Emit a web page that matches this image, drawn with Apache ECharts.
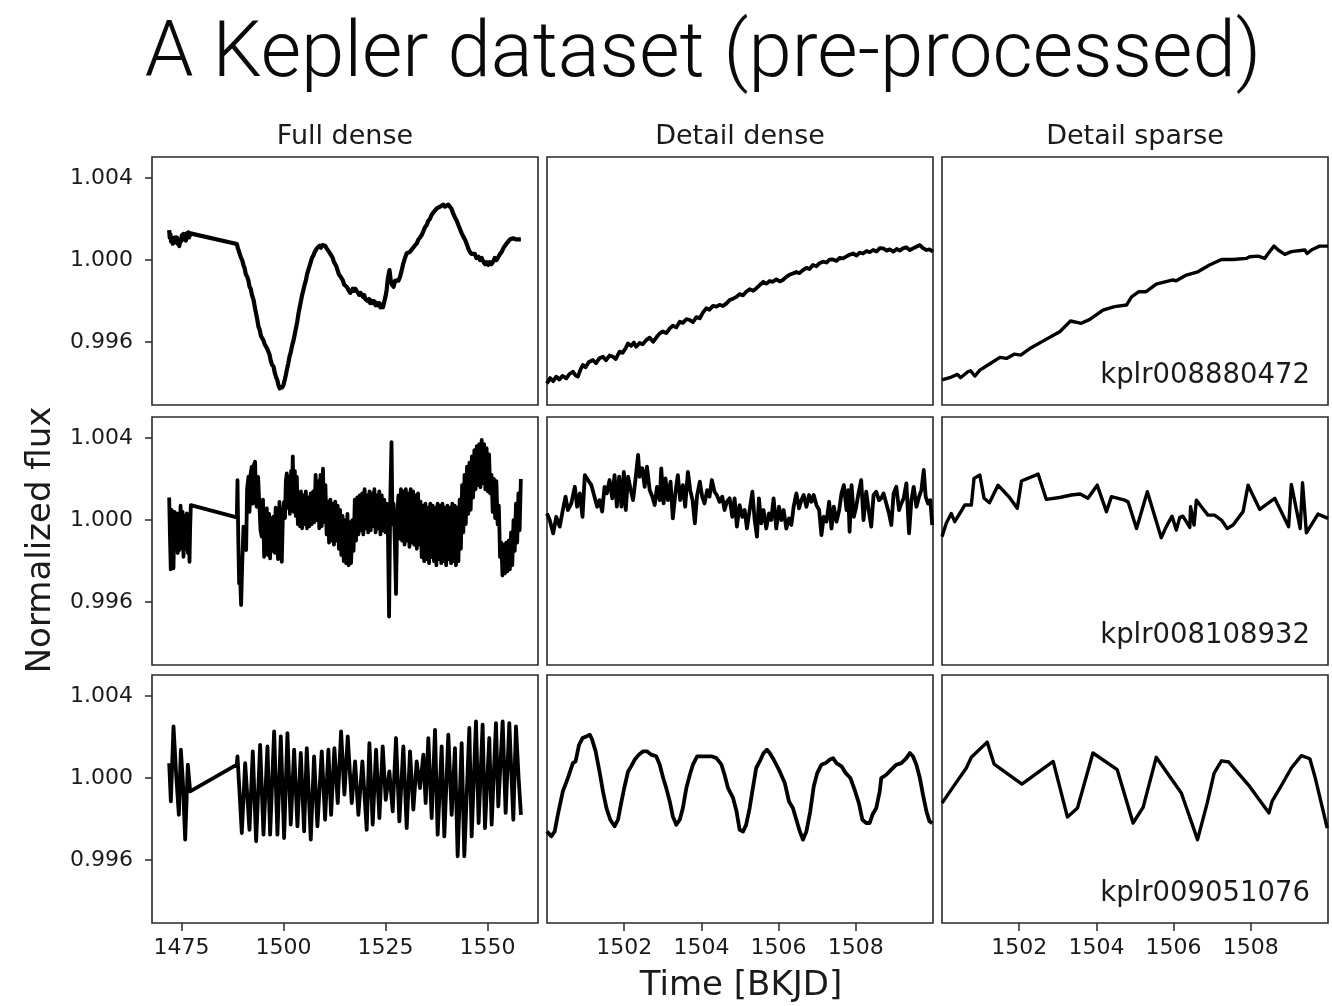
<!DOCTYPE html>
<html>
<head>
<meta charset="utf-8">
<script src="https://cdn.jsdelivr.net/npm/echarts@6/dist/echarts.min.js"></script>
<style>
html,body{margin:0;padding:0;background:#fff;}
#chart{width:1332px;height:1006px;}
</style>
</head>
<body>
<div id="chart"></div>
<script>
// ---------------- DATA ----------------
const mainTitle = 'A Kepler dataset (pre-processed)';
const columnTitles = ['Full dense', 'Detail dense', 'Detail sparse'];
const starIds = ['kplr008880472', 'kplr008108932', 'kplr009051076'];
const yAxisName = 'Normalized flux';
const xAxisName = 'Time [BKJD]';
const yTicks = [0.996, 1.000, 1.004];
const fullTicks = [1475, 1500, 1525, 1550];
const detailTicks = [1502, 1504, 1506, 1508];

// kplr008880472 — full dense
const fullDense1 = [[1472.0,1.00146],[1472.15,1.0011],[1472.3,1.00125],[1472.5,1.0009],[1472.7,1.0011],[1472.9,1.0008],[1473.1,1.0010],[1473.3,1.00085],[1473.5,1.0011],[1473.7,1.0009],[1473.9,1.0011],[1474.1,1.0008],[1474.3,1.0010],[1474.5,1.00068],[1474.7,1.0010],[1474.9,1.0009],[1475.1,1.0012],[1475.3,1.0010],[1475.5,1.00128],[1475.7,1.0010],[1475.9,1.0012],[1476.1,1.00095],[1476.3,1.0013],[1476.5,1.0011],[1476.7,1.00135],[1476.9,1.0011],[1477.2,1.0013],
[1488.6,1.00078],[1488.8,1.0006],[1489.0,1.00049],[1489.3,1.0003],[1489.6,1.00012],[1489.9,1.0000],[1490.2,0.99976],[1490.5,0.9996],[1490.8,0.9993],[1491.1,0.9992],[1491.4,0.99903],[1491.7,0.9987],[1492.0,0.9986],[1492.3,0.9983],[1492.7,0.99805],[1493.0,0.9977],[1493.3,0.9974],[1493.6,0.9971],[1493.9,0.99675],[1494.2,0.9966],[1494.5,0.9963],[1494.8,0.9962],[1495.1,0.9961],[1495.4,0.9959],[1495.7,0.9958],[1496.0,0.9957],[1496.3,0.99562],[1496.6,0.9954],[1496.9,0.9951],[1497.2,0.9949],[1497.6,0.9948],[1497.9,0.9945],[1498.2,0.9943],[1498.5,0.99416],[1498.8,0.9939],[1499.1,0.99375],[1499.4,0.9937],[1499.7,0.9938],[1500.0,0.9939],[1500.2,0.99399],[1500.5,0.9943],[1500.8,0.9946],[1501.2,0.99497],[1501.5,0.9953],[1501.8,0.9955],[1502.1,0.9958],[1502.5,0.9961],[1502.8,0.9964],[1503.1,0.9967],[1503.4,0.9970],[1503.7,0.9974],[1504.0,0.9977],[1504.3,0.9980],[1504.6,0.9983],[1504.9,0.99854],[1505.2,0.9988],[1505.5,0.9990],[1505.8,0.9993],[1506.1,0.99951],[1506.4,0.9997],[1506.7,0.9999],[1507.0,1.0001],[1507.4,1.00024],[1507.7,1.0004],[1508.0,1.0004],[1508.3,1.0006],[1508.6,1.00057],[1508.9,1.0007],[1509.2,1.0006],[1509.6,1.00073],[1509.9,1.0007],[1510.2,1.0007],[1510.6,1.00057],[1510.9,1.0005],[1511.2,1.0004],[1511.5,1.0003],[1511.8,1.00024],[1512.1,1.0001],[1512.4,0.9999],[1512.7,0.9998],[1513.0,0.99968],[1513.3,0.9995],[1513.6,0.9993],[1514.0,0.9992],[1514.3,0.99911],[1514.6,0.9990],[1514.9,0.9988],[1515.2,0.9988],[1515.5,0.9987],[1515.8,0.9986],[1516.1,0.99855],[1516.4,0.9984],[1516.7,0.99846],[1517.0,0.9986],[1517.3,0.9985],[1517.6,0.9986],[1518.0,0.99854],[1518.3,0.9984],[1518.6,0.9983],[1518.9,0.9984],[1519.2,0.9983],[1519.5,0.9982],[1519.8,0.9983],[1520.1,0.9981],[1520.4,0.99813],[1520.7,0.9980],[1521.0,0.9981],[1521.3,0.9979],[1521.6,0.99802],[1521.9,0.9979],[1522.2,0.9980],[1522.6,0.9978],[1522.9,0.99792],[1523.2,0.9978],[1523.5,0.9979],[1523.8,0.9977],[1524.1,0.99781],[1524.4,0.9977],[1524.7,0.99773],[1525.0,0.9982],[1525.3,0.99854],[1525.6,0.9991],[1526.0,0.99951],[1526.3,0.99903],[1526.6,0.9988],[1527.0,0.9987],[1527.4,0.9990],[1527.8,0.99894],[1528.2,0.9990],[1528.6,0.99919],[1529.0,0.9995],[1529.4,0.99984],[1529.8,1.0001],[1530.2,1.00032],[1530.6,1.0004],[1531.0,1.0004],[1531.4,1.00049],[1531.8,1.0006],[1532.2,1.0007],[1532.7,1.00081],[1533.1,1.0010],[1533.5,1.0011],[1533.9,1.00122],[1534.3,1.0014],[1534.7,1.0016],[1535.1,1.0017],[1535.5,1.0019],[1535.9,1.0020],[1536.3,1.00219],[1536.7,1.0023],[1537.1,1.0024],[1537.6,1.00252],[1538.0,1.0026],[1538.4,1.0026],[1538.8,1.00268],[1539.2,1.0027],[1539.6,1.0026],[1540.0,1.00268],[1540.4,1.0027],[1540.8,1.00268],[1541.2,1.0025],[1541.6,1.00227],[1542.0,1.0021],[1542.5,1.0019],[1542.9,1.0017],[1543.3,1.0015],[1543.7,1.0013],[1544.1,1.00114],[1544.5,1.0010],[1544.9,1.0008],[1545.3,1.00057],[1545.7,1.0004],[1546.1,1.0003],[1546.5,1.00024],[1546.9,1.0003],[1547.3,1.0001],[1547.8,1.00016],[1548.2,1.0000],[1548.6,1.0001],[1549.0,0.99992],[1549.4,0.9998],[1549.8,0.9999],[1550.2,0.99976],[1550.6,0.9999],[1551.0,0.9998],[1551.4,0.99992],[1551.8,1.0001],[1552.2,1.0000],[1552.7,1.00016],[1553.1,1.0003],[1553.5,1.0004],[1553.9,1.00057],[1554.3,1.0007],[1554.7,1.0008],[1555.1,1.00089],[1555.5,1.0010],[1555.9,1.0010],[1556.3,1.00106],[1556.7,1.0011],[1557.1,1.0010],[1557.6,1.00101],[1558.2,1.00101]];

const detailDense1 = [[1500.00,0.99399],[1500.08,0.99425],[1500.16,0.9941],[1500.24,0.99432],[1500.32,0.99418],[1500.40,0.99436],[1500.50,0.99424],[1500.58,0.99445],[1500.67,0.99456],[1500.74,0.99438],[1500.80,0.99432],[1500.87,0.99468],[1500.93,0.99489],[1501.00,0.99478],[1501.08,0.99502],[1501.19,0.99513],[1501.27,0.99498],[1501.36,0.99522],[1501.45,0.99529],[1501.53,0.99512],[1501.62,0.99535],[1501.71,0.99529],[1501.78,0.99518],[1501.88,0.99554],[1501.96,0.99548],[1502.04,0.99572],[1502.10,0.99594],[1502.18,0.99582],[1502.25,0.99598],[1502.31,0.99578],[1502.40,0.99596],[1502.48,0.9959],[1502.57,0.9961],[1502.66,0.99622],[1502.75,0.99602],[1502.84,0.99625],[1502.92,0.99643],[1503.00,0.99652],[1503.09,0.99644],[1503.18,0.99667],[1503.26,0.9968],[1503.35,0.99672],[1503.44,0.997],[1503.52,0.99694],[1503.61,0.99712],[1503.70,0.99708],[1503.78,0.99698],[1503.87,0.99722],[1503.96,0.99716],[1504.04,0.99745],[1504.13,0.99765],[1504.21,0.99758],[1504.30,0.99777],[1504.39,0.99773],[1504.47,0.99782],[1504.56,0.99776],[1504.65,0.99789],[1504.73,0.99805],[1504.82,0.99812],[1504.91,0.99821],[1504.99,0.99834],[1505.08,0.99828],[1505.16,0.99846],[1505.25,0.99858],[1505.34,0.9985],[1505.42,0.99862],[1505.51,0.99878],[1505.60,0.99894],[1505.68,0.99885],[1505.77,0.99898],[1505.85,0.99894],[1505.94,0.99906],[1506.03,0.99896],[1506.11,0.99903],[1506.20,0.99918],[1506.28,0.99928],[1506.37,0.99935],[1506.46,0.99942],[1506.54,0.99936],[1506.63,0.99951],[1506.72,0.99962],[1506.80,0.99956],[1506.89,0.99976],[1506.98,0.9997],[1507.06,0.99985],[1507.15,0.99992],[1507.24,0.99988],[1507.32,1.00002],[1507.41,1.00003],[1507.50,0.99996],[1507.58,1.0001],[1507.67,1.00008],[1507.76,1.00018],[1507.84,1.00026],[1507.93,1.00032],[1508.02,1.00022],[1508.10,1.00036],[1508.19,1.00032],[1508.28,1.00044],[1508.36,1.00038],[1508.45,1.00049],[1508.54,1.00042],[1508.62,1.00058],[1508.71,1.00057],[1508.80,1.00046],[1508.88,1.00052],[1508.97,1.00041],[1509.06,1.00054],[1509.14,1.00046],[1509.22,1.00057],[1509.31,1.00062],[1509.40,1.00048],[1509.48,1.00057],[1509.57,1.00065],[1509.66,1.00073],[1509.74,1.00058],[1509.83,1.00049],[1509.91,1.00052],[1510.00,1.00041]];

const detailSparse1 = [[1500.00,0.99416],[1500.20,0.99427],[1500.40,0.99443],[1500.48,0.99427],[1500.67,0.99456],[1500.74,0.99461],[1500.85,0.99435],[1500.98,0.99464],[1501.19,0.99489],[1501.50,0.99526],[1501.67,0.99521],[1501.88,0.99542],[1502.04,0.99537],[1502.31,0.99573],[1502.66,0.9961],[1503.05,0.99651],[1503.33,0.99703],[1503.61,0.99692],[1503.83,0.99711],[1504.17,0.99756],[1504.47,0.99773],[1504.78,0.99781],[1504.91,0.99821],[1505.10,0.99846],[1505.29,0.99846],[1505.55,0.99883],[1505.98,0.99903],[1506.07,0.99899],[1506.33,0.99927],[1506.63,0.99943],[1506.93,0.99976],[1507.24,1.00003],[1507.54,1.00003],[1507.88,1.00008],[1507.97,1.00016],[1508.19,1.00019],[1508.36,1.00008],[1508.45,1.00032],[1508.60,1.00068],[1508.71,1.00049],[1508.88,1.00028],[1509.05,1.00041],[1509.40,1.00049],[1509.46,1.00032],[1509.57,1.00049],[1509.78,1.00068],[1510.00,1.00068]];

// kplr008108932
const fullDense2 = [[1472.01,1.0011],[1472.2,0.9992],[1472.4,0.9976],[1472.6,1.0005],[1472.8,0.9988],[1473.07,0.99765],[1473.3,1.0004],[1473.5,0.9990],[1473.89,1.00032],[1474.1,0.9984],[1474.3,1.0003],[1474.54,0.99854],[1474.8,1.0007],[1475.03,0.9990],[1475.3,1.0004],[1475.52,0.99821],[1475.8,1.0002],[1476.0,0.9986],[1476.34,1.00032],[1476.6,0.9984],[1476.8,1.0001],[1476.99,0.99797],[1477.15,0.9996],[1477.32,1.00073],
[1488.58,1.00013],[1488.75,1.00195],[1488.95,0.9990],[1489.15,0.99692],[1489.4,0.9972],[1489.64,0.99586],[1489.9,0.9978],[1490.22,0.99968],[1490.5,0.9990],[1490.87,0.99854],[1491.1,1.0015],[1491.44,1.00211],[1491.7,1.0004],[1492.0,1.0023],[1492.26,1.0026],[1492.5,1.0008],[1492.8,1.0027],[1493.07,1.00284],[1493.3,1.0009],[1493.48,1.00065],[1493.8,1.0021],[1494.13,1.00211],[1494.4,0.9995],[1494.7,0.99919],[1495.0,1.0010],[1495.28,0.99821],[1495.6,1.0004],[1495.93,1.00057],[1496.2,0.9983],[1496.5,1.0003],[1496.75,0.99813],[1497.0,1.0001],[1497.3,0.9985],[1497.57,1.00016],[1497.9,0.9984],[1498.1,1.0006],[1498.38,0.99886],[1498.7,0.9981],[1499.04,1.00089],[1499.3,0.9986],[1499.61,0.99797],[1499.9,1.0004],[1500.18,1.00089],[1500.4,1.0001],[1500.6,1.0019],[1500.83,1.00227],[1501.1,1.0006],[1501.3,1.0021],[1501.6,1.0003],[1501.9,1.0024],[1502.1,1.0008],[1502.3,1.0031],[1502.55,1.0004],[1502.8,1.0024],[1503.05,1.0002],[1503.3,1.0021],[1503.55,0.9998],[1503.8,1.0013],[1504.05,0.9997],[1504.3,1.0014],[1504.6,0.9996],[1504.9,1.0012],[1505.2,0.9998],[1505.5,1.0014],[1505.8,0.9996],[1506.1,1.0011],[1506.4,0.9997],[1506.7,1.0013],[1507.0,0.9998],[1507.3,1.0014],[1507.6,0.9999],[1507.9,1.0022],[1508.2,1.0000],[1508.5,1.0019],[1508.8,0.9996],[1509.1,1.0022],[1509.4,0.9997],[1509.7,1.0025],[1510.0,0.9999],[1510.3,1.0017],[1510.6,0.9993],[1510.9,1.0009],[1511.2,0.9989],[1511.5,1.0010],[1511.8,0.9990],[1512.1,1.0008],[1512.4,0.9988],[1512.7,1.0009],[1513.0,0.9990],[1513.3,1.0007],[1513.6,0.9986],[1513.9,1.0005],[1514.2,0.9983],[1514.5,1.0002],[1514.8,0.9980],[1515.1,1.0000],[1515.4,0.9979],[1515.7,1.0003],[1516.0,0.9978],[1516.3,0.9999],[1516.6,0.9979],[1516.9,1.0000],[1517.2,0.9985],[1517.5,1.0010],[1517.8,0.9990],[1518.1,1.0011],[1518.4,0.9993],[1518.7,1.0012],[1519.0,0.9995],[1519.3,1.0013],[1519.6,0.9993],[1519.9,1.0015],[1520.2,0.9996],[1520.5,1.0012],[1520.8,0.9994],[1521.1,1.0014],[1521.4,0.9995],[1521.7,1.0013],[1522.0,0.9997],[1522.3,1.0015],[1522.6,0.9994],[1522.9,1.0012],[1523.2,0.9996],[1523.5,1.0014],[1523.8,0.9993],[1524.1,1.0012],[1524.4,0.9995],[1524.7,1.0010],[1525.0,0.9994],[1525.3,1.0008],[1525.6,0.9997],[1525.9,0.9953],[1526.2,1.0010],[1526.5,1.0038],[1526.75,0.9998],[1527.0,1.0008],[1527.3,0.9990],[1527.6,0.9964],[1527.9,1.0002],[1528.2,1.0012],[1528.5,0.9991],[1528.8,1.0015],[1529.1,0.9990],[1529.4,1.0014],[1529.7,0.9988],[1530.0,1.0015],[1530.3,0.9990],[1530.6,1.0013],[1530.9,0.9987],[1531.2,1.0015],[1531.5,0.9989],[1531.8,1.0014],[1532.1,0.9988],[1532.4,1.0012],[1532.7,0.9986],[1533.0,1.0013],[1533.3,0.9988],[1533.6,1.0009],[1533.9,0.9982],[1534.2,1.0007],[1534.5,0.9980],[1534.8,1.0008],[1535.1,0.9981],[1535.4,1.0006],[1535.7,0.9979],[1536.0,1.0008],[1536.3,0.9982],[1536.6,1.0007],[1536.9,0.9980],[1537.2,1.0006],[1537.5,0.9978],[1537.8,1.0008],[1538.1,0.9981],[1538.4,1.0007],[1538.7,0.9979],[1539.0,1.0008],[1539.3,0.9980],[1539.6,1.0006],[1539.9,0.9978],[1540.2,1.0007],[1540.5,0.9981],[1540.8,1.0006],[1541.1,0.9979],[1541.4,1.0008],[1541.7,0.9980],[1542.0,1.0007],[1542.3,0.9978],[1542.6,1.0006],[1542.9,0.9980],[1543.2,1.0010],[1543.5,0.9986],[1543.8,1.0017],[1544.1,0.9994],[1544.4,1.0022],[1544.7,0.9998],[1545.0,1.0026],[1545.3,1.0003],[1545.6,1.0028],[1545.9,1.0005],[1546.2,1.0031],[1546.5,1.0011],[1546.8,1.0034],[1547.1,1.0015],[1547.4,1.0036],[1547.7,1.0017],[1548.0,1.0037],[1548.3,1.0016],[1548.6,1.0039],[1548.9,1.0018],[1549.2,1.0037],[1549.5,1.0015],[1549.8,1.0035],[1550.1,1.0014],[1550.4,1.0032],[1550.7,1.0013],[1551.0,1.0022],[1551.3,1.0004],[1551.6,1.0020],[1551.9,1.0001],[1552.2,1.0019],[1552.5,0.9998],[1552.8,1.0007],[1553.1,0.9982],[1553.4,0.9989],[1553.7,0.9973],[1554.0,0.9988],[1554.3,0.9974],[1554.6,0.9989],[1554.9,0.9975],[1555.2,0.9990],[1555.5,0.9976],[1555.8,0.9994],[1556.1,0.9978],[1556.4,1.0000],[1556.7,0.9985],[1557.0,1.0008],[1557.3,0.9989],[1557.6,1.0013],[1557.9,0.9995],[1558.2,1.0020]];

const detailDense2 = [[1500.00,1.00032],[1500.07,1.0],[1500.16,0.99935],[1500.24,1.00016],[1500.33,0.99968],[1500.41,1.00049],[1500.48,1.00114],[1500.54,1.00049],[1500.63,1.00081],[1500.72,1.00162],[1500.78,1.00065],[1500.85,1.0013],[1500.92,1.00016],[1500.98,1.00219],[1501.06,1.00195],[1501.15,1.0017],[1501.23,1.00114],[1501.30,1.00065],[1501.36,1.00097],[1501.43,1.00041],[1501.49,1.00162],[1501.55,1.0013],[1501.62,1.00195],[1501.69,1.00106],[1501.75,1.00219],[1501.81,1.00065],[1501.87,1.00211],[1501.93,1.00065],[1501.99,1.00235],[1502.04,1.00049],[1502.10,1.00211],[1502.16,1.00154],[1502.23,1.00097],[1502.30,1.00211],[1502.36,1.00317],[1502.40,1.00211],[1502.47,1.00252],[1502.53,1.00162],[1502.59,1.0026],[1502.66,1.00146],[1502.73,1.00114],[1502.79,1.00073],[1502.85,1.00162],[1502.92,1.00097],[1502.96,1.00252],[1503.02,1.00081],[1503.07,1.00203],[1503.13,1.00097],[1503.20,1.00187],[1503.26,1.00008],[1503.33,1.00138],[1503.39,1.00219],[1503.45,1.00097],[1503.52,1.0017],[1503.58,1.00065],[1503.65,1.00235],[1503.71,1.00146],[1503.77,1.00097],[1503.83,0.99984],[1503.89,1.00122],[1503.96,1.00187],[1504.02,1.00114],[1504.08,1.00081],[1504.15,1.00146],[1504.21,1.00114],[1504.27,1.00195],[1504.34,1.00138],[1504.40,1.00122],[1504.47,1.00089],[1504.54,1.00114],[1504.60,1.00049],[1504.66,1.00089],[1504.73,1.00106],[1504.80,1.00016],[1504.86,1.00106],[1504.92,0.99968],[1504.99,1.00073],[1505.06,1.00016],[1505.12,1.00049],[1505.18,0.99959],[1505.25,1.00049],[1505.32,1.00138],[1505.38,1.0],[1505.44,0.99919],[1505.49,1.00106],[1505.55,0.99984],[1505.61,1.00049],[1505.68,0.99959],[1505.75,1.00032],[1505.81,1.0],[1505.87,1.00106],[1505.94,0.99959],[1506.01,1.00065],[1506.07,1.0],[1506.13,1.00049],[1506.20,0.99959],[1506.27,1.00008],[1506.33,0.99976],[1506.39,1.00065],[1506.46,1.0013],[1506.53,1.00057],[1506.59,1.00097],[1506.65,1.00122],[1506.72,1.00065],[1506.79,1.00122],[1506.85,1.00089],[1506.91,1.00122],[1506.98,1.00073],[1507.05,1.00049],[1507.11,0.99927],[1507.17,1.00016],[1507.24,0.99992],[1507.31,1.00089],[1507.37,0.99959],[1507.43,1.00065],[1507.50,0.99992],[1507.57,1.00049],[1507.63,1.0013],[1507.69,1.0017],[1507.76,1.00049],[1507.80,1.00146],[1507.84,0.99943],[1507.89,1.0017],[1507.95,1.00016],[1508.01,1.00065],[1508.07,1.0013],[1508.14,1.00195],[1508.20,1.0],[1508.27,1.00138],[1508.34,1.00041],[1508.40,0.99968],[1508.46,1.00122],[1508.53,1.00138],[1508.60,1.00097],[1508.66,1.00106],[1508.72,1.0013],[1508.79,1.00081],[1508.86,1.00032],[1508.92,0.99976],[1508.98,1.0013],[1509.05,1.00162],[1509.12,1.00049],[1509.18,1.00081],[1509.24,1.00106],[1509.31,1.00179],[1509.38,0.99935],[1509.44,1.00097],[1509.50,1.00162],[1509.57,1.00065],[1509.64,1.00114],[1509.70,1.00146],[1509.76,1.00244],[1509.81,1.00114],[1509.87,1.00081],[1509.93,1.00097],[1509.98,0.99976]];

const detailSparse2 = [[1500.00,0.99919],[1500.11,0.99984],[1500.24,1.00032],[1500.33,0.99992],[1500.46,1.00032],[1500.59,1.00073],[1500.76,1.00073],[1500.83,1.00203],[1500.98,1.00219],[1501.09,1.00106],[1501.23,1.00084],[1501.45,1.0017],[1501.75,1.0011],[1501.95,1.00057],[1502.06,1.0019],[1502.49,1.00224],[1502.70,1.00101],[1503.05,1.0011],[1503.35,1.00122],[1503.58,1.00127],[1503.78,1.00106],[1504.02,1.0017],[1504.26,1.00041],[1504.39,1.00114],[1504.73,1.00097],[1504.82,1.00089],[1505.04,0.99959],[1505.32,1.00138],[1505.68,0.99914],[1505.81,0.99968],[1505.96,1.00019],[1506.07,0.99951],[1506.16,1.00013],[1506.24,1.00019],[1506.42,0.99964],[1506.44,1.00065],[1506.53,0.99976],[1506.59,1.00097],[1506.72,1.00065],[1506.89,1.00024],[1507.06,1.00024],[1507.24,1.0],[1507.39,0.99959],[1507.54,0.99976],[1507.80,1.00041],[1507.93,1.0017],[1508.23,1.00052],[1508.62,1.00106],[1508.98,0.99968],[1509.05,1.00174],[1509.28,0.99959],[1509.34,1.00182],[1509.44,0.99938],[1509.74,1.00029],[1510.00,1.00008]];

// kplr009051076
const fullDense3 = [[1472.01,1.00073],[1472.42,0.99886],[1473.07,1.00252],[1473.73,1.00016],[1474.38,0.99821],[1474.87,1.00138],[1475.36,0.99984],[1475.93,0.997],[1476.58,1.00065],[1477.16,0.99935],
[1488.58,1.00065],[1488.75,1.00106],[1489.24,0.99935],[1489.81,0.99732],[1490.63,1.00073],[1491.69,0.99748],[1492.50,1.0013],[1493.32,0.99692],[1494.30,1.00162],[1495.12,0.99724],[1496.10,1.00154],[1496.75,0.99724],[1497.73,1.00227],[1498.54,0.99724],[1499.36,1.00203],[1500.18,0.99708],[1500.99,1.00219],[1501.81,0.99773],[1502.63,1.00138],[1503.44,0.99765],[1504.26,1.00122],[1505.08,0.9974],[1505.73,1.00146],[1506.71,0.997],[1507.52,1.00106],[1508.34,0.99765],[1509.40,1.0013],[1510.22,0.99797],[1511.03,1.00138],[1511.69,0.99821],[1512.50,1.00146],[1513.32,0.99878],[1514.14,1.00227],[1514.95,0.99919],[1515.77,1.00203],[1516.75,0.99878],[1517.57,1.00081],[1518.38,0.99821],[1519.36,1.00081],[1520.42,0.99748],[1521.08,1.0017],[1521.89,0.99773],[1522.71,1.00138],[1523.53,0.99805],[1524.34,1.00154],[1525.08,0.99894],[1525.97,1.00032],[1526.79,0.99838],[1527.60,1.00195],[1528.42,0.99789],[1529.40,1.00154],[1530.22,0.99756],[1531.03,1.0013],[1531.85,0.99846],[1532.67,1.00081],[1533.48,0.99951],[1534.30,1.00114],[1534.87,0.99878],[1535.52,1.00195],[1536.34,0.99805],[1537.16,1.00235],[1537.81,0.99724],[1538.79,1.00154],[1539.44,0.99716],[1540.42,1.00211],[1541.24,0.99821],[1542.05,1.00146],[1542.71,0.99619],[1543.69,1.0017],[1544.34,0.99619],[1545.57,1.00244],[1546.14,0.99716],[1547.20,1.00276],[1547.85,0.99781],[1548.83,1.0026],[1549.40,0.99756],[1550.46,1.00195],[1551.04,0.99773],[1552.10,1.00268],[1552.67,0.99862],[1553.74,1.00276],[1554.47,0.9983],[1555.37,1.00268],[1556.35,0.99797],[1557.00,1.00252],[1557.65,1.0],[1558.22,0.99821]];

const detailDense3 = [[1500.00,0.9974],[1500.11,0.99716],[1500.20,0.9974],[1500.28,0.99821],[1500.41,0.99935],[1500.54,1.0],[1500.67,1.00073],[1500.74,1.00081],[1500.83,1.00162],[1500.92,1.00195],[1501.02,1.00203],[1501.11,1.00211],[1501.17,1.00187],[1501.26,1.0013],[1501.36,1.00032],[1501.45,0.99935],[1501.54,0.99854],[1501.64,0.99797],[1501.75,0.99765],[1501.84,0.99797],[1501.93,0.99886],[1502.01,0.99959],[1502.10,1.00032],[1502.18,1.00057],[1502.27,1.00089],[1502.38,1.00114],[1502.49,1.0013],[1502.59,1.0013],[1502.70,1.00114],[1502.83,1.00106],[1502.92,1.00065],[1503.01,1.0],[1503.09,0.99951],[1503.18,0.99886],[1503.26,0.99813],[1503.35,0.99773],[1503.44,0.99797],[1503.52,0.99854],[1503.61,0.99951],[1503.70,1.00016],[1503.78,1.00065],[1503.89,1.00106],[1504.00,1.00106],[1504.13,1.00106],[1504.26,1.00106],[1504.39,1.00097],[1504.52,1.00065],[1504.60,1.00016],[1504.69,0.99951],[1504.82,0.99903],[1504.91,0.99838],[1504.99,0.99748],[1505.08,0.9974],[1505.16,0.99773],[1505.25,0.99854],[1505.34,0.99959],[1505.42,1.00049],[1505.51,1.00081],[1505.61,1.00122],[1505.70,1.00138],[1505.77,1.00122],[1505.85,1.00097],[1505.94,1.00065],[1506.03,1.00032],[1506.16,0.99976],[1506.27,0.99886],[1506.37,0.99854],[1506.46,0.99797],[1506.55,0.9974],[1506.63,0.997],[1506.72,0.9974],[1506.82,0.99838],[1506.91,0.99959],[1507.00,1.00024],[1507.11,1.00065],[1507.22,1.00073],[1507.32,1.00089],[1507.41,1.00097],[1507.50,1.00073],[1507.63,1.00057],[1507.74,1.00024],[1507.86,1.0],[1507.97,0.99943],[1508.08,0.99878],[1508.17,0.99797],[1508.27,0.99781],[1508.36,0.99781],[1508.43,0.99821],[1508.53,0.99854],[1508.62,0.99935],[1508.66,1.0],[1508.79,1.00016],[1508.92,1.00041],[1509.05,1.00065],[1509.18,1.00073],[1509.31,1.00097],[1509.40,1.00122],[1509.48,1.00106],[1509.57,1.00065],[1509.66,1.0],[1509.74,0.99919],[1509.83,0.99838],[1509.91,0.99789],[1509.98,0.99781]];

const detailSparse3 = [[1500.00,0.99878],[1500.33,0.99968],[1500.63,1.00049],[1500.76,1.00101],[1501.17,1.00175],[1501.35,1.00068],[1502.07,0.99971],[1502.88,1.00081],[1503.25,0.9981],[1503.51,0.99854],[1503.91,1.00122],[1504.54,1.00041],[1504.95,0.99781],[1505.21,0.99857],[1505.55,1.00101],[1506.20,0.99927],[1506.62,0.997],[1506.87,0.99878],[1507.05,1.00024],[1507.24,1.00084],[1507.43,1.00078],[1507.97,0.99959],[1508.47,0.9983],[1508.55,0.99886],[1508.83,0.99976],[1509.05,1.00049],[1509.31,1.00109],[1509.53,1.00094],[1509.66,1.00008],[1509.98,0.99756]];

const panelData = [
  [fullDense1, detailDense1, detailSparse1],
  [fullDense2, detailDense2, detailSparse2],
  [fullDense3, detailDense3, detailSparse3]
];

// ---------------- LAYOUT ----------------
const colLeft = [152, 547, 942];
const colWidth = 386;
const rowTop = [157, 417, 675];
const rowHeight = 248;
const yRange = [0.99294, 1.00502];
const xRangeFull = [1467.8, 1562.4];
const xRangeDetail = [1500, 1510];
const FONT = 'DejaVu Sans';
const TXT = '#1a1a1a';
const AX = '#2a2a2a';
const lineWidths = [[4.2, 3.8, 3.4], [3.8, 3.8, 3.4], [3.8, 3.8, 3.4]];

const grids = [], xAxes = [], yAxes = [], series = [];
for (let r = 0; r < 3; r++) {
  for (let c = 0; c < 3; c++) {
    const i = r * 3 + c;
    grids.push({
      left: colLeft[c], top: rowTop[r], width: colWidth, height: rowHeight,
      show: true, borderColor: AX, borderWidth: 1.6, backgroundColor: '#fff'
    });
    const isFull = c === 0;
    const ticks = isFull ? fullTicks : detailTicks;
    const range = isFull ? xRangeFull : xRangeDetail;
    const bottomRow = r === 2;
    xAxes.push({
      type: 'value', gridIndex: i, min: range[0], max: range[1],
      axisLine: { show: false },
      splitLine: { show: false },
      axisTick: { show: bottomRow, customValues: ticks, length: 8, lineStyle: { color: AX, width: 1.5 } },
      axisLabel: { show: bottomRow, customValues: ticks, margin: 14, fontFamily: FONT, fontSize: 22, color: TXT,
        formatter: v => String(Math.round(v)) }
    });
    yAxes.push({
      type: 'value', gridIndex: i, min: yRange[0], max: yRange[1],
      axisLine: { show: false },
      splitLine: { show: false },
      axisTick: { show: c === 0, customValues: yTicks, length: 7, lineStyle: { color: AX, width: 1.5 } },
      axisLabel: { show: c === 0, customValues: yTicks, margin: 19, fontFamily: FONT, fontSize: 22, color: TXT,
        formatter: v => v.toFixed(3) }
    });
    series.push({
      type: 'line', xAxisIndex: i, yAxisIndex: i, data: panelData[r][c],
      showSymbol: false, symbol: 'none', clip: true,
      lineStyle: { color: '#000', width: lineWidths[r][c], join: 'round' },
      animation: false, silent: true
    });
  }
}

const graphics = [];
graphics.push({ type: 'text', x: 703, y: 56, style: { text: mainTitle, font: '300 78px Roboto', fill: '#0a0a0a', textAlign: 'center', textVerticalAlign: 'middle' } });
for (let c = 0; c < 3; c++) {
  graphics.push({ type: 'text', x: colLeft[c] + colWidth / 2, y: 137, style: { text: columnTitles[c], font: '27px "DejaVu Sans"', fill: TXT, textAlign: 'center', textVerticalAlign: 'middle' } });
}
for (let r = 0; r < 3; r++) {
  graphics.push({ type: 'text', x: 1310, y: rowTop[r] + 219, style: { text: starIds[r], font: '27.5px "DejaVu Sans"', fill: TXT, textAlign: 'right', textVerticalAlign: 'middle' } });
}
graphics.push({ type: 'text', x: 41, y: 540, rotation: Math.PI / 2, style: { text: yAxisName, font: '34px "DejaVu Sans"', fill: TXT, textAlign: 'center', textVerticalAlign: 'middle' } });
graphics.push({ type: 'text', x: 741, y: 986, style: { text: xAxisName, font: '34px "DejaVu Sans"', fill: TXT, textAlign: 'center', textVerticalAlign: 'middle' } });

const chart = echarts.init(document.getElementById('chart'), null, { renderer: 'canvas' });
chart.setOption({
  animation: false,
  backgroundColor: '#fff',
  grid: grids, xAxis: xAxes, yAxis: yAxes, series: series,
  graphic: graphics
});
</script>
</body>
</html>
